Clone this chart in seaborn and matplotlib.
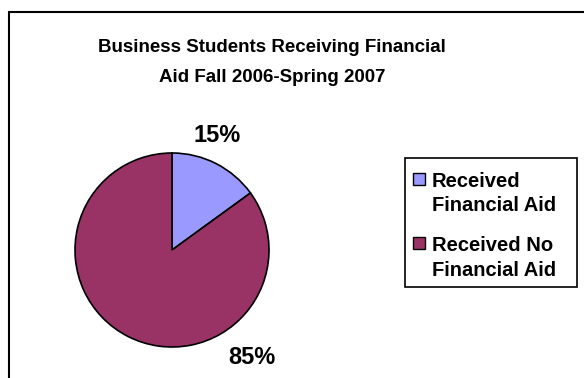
import matplotlib
matplotlib.use("Agg")
import matplotlib.pyplot as plt
import seaborn as sns
from matplotlib.patches import Rectangle

# Share of business students by financial-aid status
categories = ["Received\nFinancial Aid", "Received No\nFinancial Aid"]
shares = [15, 85]
pct_labels = ["15%", "85%"]
colors = ["#9999FF", "#993366"]

sns.set_theme(style="white")
plt.rcParams["font.family"] = ["Liberation Sans", "DejaVu Sans"]
plt.rcParams["text.color"] = "black"

W, H = 584, 378
fig = plt.figure(figsize=(W / 100, H / 100), dpi=100)
fig.patch.set_facecolor("white")


def fx(px):
    return px / W


def fy(py):
    return 1 - py / H


# Chart-area border (runs off the right and bottom edges)
fig.add_artist(Rectangle((fx(9), -0.1), 1.2, (H - 12) / H + 0.1,
                         transform=fig.transFigure, fill=False,
                         edgecolor="black", linewidth=1.5))

fig.text(fx(272), fy(47), "Business Students Receiving Financial",
         ha="center", va="center", fontsize=13.5, fontweight="bold")
fig.text(fx(272), fy(78), "Aid Fall 2006-Spring 2007",
         ha="center", va="center", fontsize=13.5, fontweight="bold")

cx, cy, r = 172, 250, 97
ax = fig.add_axes([fx(cx - r), fy(cy + r), 2 * r / W, 2 * r / H])
wedges, _ = ax.pie(shares, colors=colors, startangle=90, counterclock=False,
                   radius=1.0,
                   wedgeprops=dict(edgecolor="black", linewidth=1.2))
ax.set_xlim(-1.0, 1.0)
ax.set_ylim(-1.0, 1.0)
ax.set_aspect("auto")
ax.axis("off")

# Percentage labels placed outside the pie
label_pos = [(45 / r, 115 / r), (80 / r, -107 / r)]
for txt, (lx, ly) in zip(pct_labels, label_pos):
    ax.text(lx, ly, txt, ha="center", va="center", fontsize=17,
            fontweight="bold", clip_on=False)

# Legend: boxed, swatch aligned with the first line of each entry
fig.add_artist(Rectangle((fx(405), fy(287)), fx(577) - fx(405),
                         fy(158) - fy(287), transform=fig.transFigure,
                         facecolor="white", edgecolor="black", linewidth=1.2))
entry_lines = [(181.5, 205.5), (245.5, 270)]
for cat, col, (y1, y2) in zip(categories, colors, entry_lines):
    fig.add_artist(Rectangle((fx(413), fy(y1 + 4)), 12 / W, 12 / H,
                             transform=fig.transFigure, facecolor=col,
                             edgecolor="black", linewidth=1.0))
    line1, line2 = cat.split("\n")
    for text, yy in ((line1, y1), (line2, y2)):
        fig.text(fx(432), fy(yy), text, ha="left", va="center",
                 fontsize=14.5, fontweight="bold")

fig.savefig("out.png", dpi=100)
